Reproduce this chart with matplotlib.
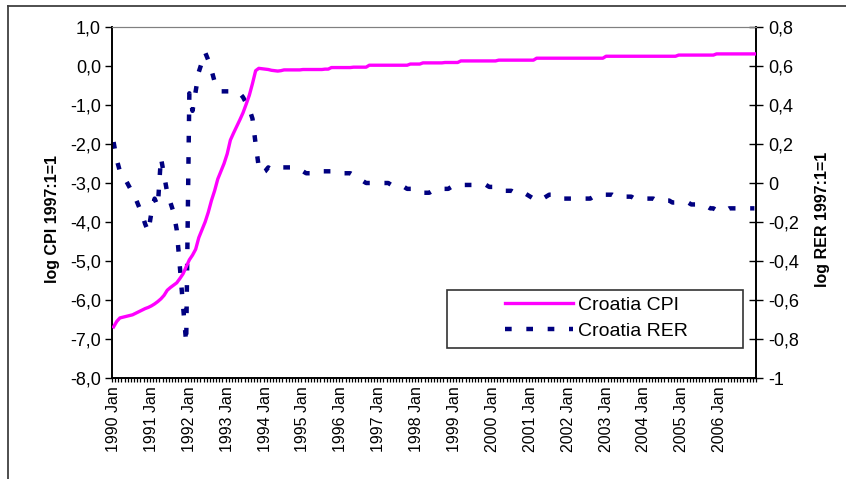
import matplotlib
matplotlib.use("Agg")
import matplotlib.pyplot as plt
from matplotlib.lines import Line2D
from matplotlib.patches import Rectangle

plt.rcParams['font.family'] = ['Liberation Sans', 'DejaVu Sans']

# monthly data, 1990 Jan .. 2006 Dec
cpi = [
    -6.69, -6.55, -6.46, -6.44, -6.42, -6.40, -6.38, -6.34, -6.30, -6.26, -6.22, -6.19,  # 1990
    -6.15, -6.10, -6.04, -5.97, -5.88, -5.75, -5.68, -5.62, -5.56, -5.45, -5.33, -5.15,  # 1991
    -4.97, -4.85, -4.70, -4.40, -4.20, -4.00, -3.75, -3.45, -3.20, -2.90, -2.70, -2.50,  # 1992
    -2.25, -1.90, -1.72, -1.55, -1.38, -1.20, -0.98, -0.75, -0.45, -0.12, -0.06, -0.07,  # 1993
    -0.08, -0.09, -0.11, -0.12, -0.13, -0.12, -0.10, -0.10, -0.10, -0.10, -0.10, -0.10,  # 1994
    -0.09, -0.09, -0.09, -0.09, -0.09, -0.09, -0.09, -0.08, -0.08, -0.04, -0.04, -0.04,  # 1995
    -0.04, -0.04, -0.04, -0.04, -0.03, -0.03, -0.03, -0.03, -0.03, 0.02, 0.02, 0.02,     # 1996
    0.02, 0.02, 0.02, 0.02, 0.02, 0.02, 0.02, 0.02, 0.02, 0.02, 0.05, 0.05,              # 1997
    0.05, 0.05, 0.08, 0.08, 0.08, 0.08, 0.08, 0.08, 0.08, 0.09, 0.09, 0.09,              # 1998
    0.09, 0.09, 0.13, 0.13, 0.13, 0.13, 0.13, 0.13, 0.13, 0.13, 0.13, 0.13,              # 1999
    0.13, 0.13, 0.15, 0.15, 0.15, 0.15, 0.15, 0.15, 0.15, 0.15, 0.15, 0.15,              # 2000
    0.15, 0.15, 0.20, 0.20, 0.20, 0.20, 0.20, 0.20, 0.20, 0.20, 0.20, 0.20,              # 2001
    0.20, 0.20, 0.20, 0.20, 0.20, 0.20, 0.20, 0.20, 0.20, 0.20, 0.20, 0.20,              # 2002
    0.25, 0.25, 0.25, 0.25, 0.25, 0.25, 0.25, 0.25, 0.25, 0.25, 0.25, 0.25,              # 2003
    0.25, 0.25, 0.25, 0.25, 0.25, 0.25, 0.25, 0.25, 0.25, 0.25, 0.25, 0.28,              # 2004
    0.28, 0.28, 0.28, 0.28, 0.28, 0.28, 0.28, 0.28, 0.28, 0.28, 0.28, 0.31,              # 2005
    0.31, 0.31, 0.31, 0.31, 0.31, 0.31, 0.31, 0.31, 0.31, 0.31, 0.31, 0.31,              # 2006
]
rer = [
    0.21, 0.12, 0.06, 0.03, 0.01, -0.02, -0.05, -0.08, -0.12, -0.16, -0.21, -0.25,       # 1990
    -0.15, -0.08, -0.12, 0.13, 0.04, -0.05, -0.10, -0.15, -0.24, -0.43, -0.63, -0.82,    # 1991
    0.46, 0.37, 0.47, 0.57, 0.62, 0.67, 0.63, 0.58, 0.52, 0.48, 0.47, 0.47,              # 1992
    0.47, 0.47, 0.47, 0.47, 0.46, 0.44, 0.41, 0.38, 0.33, 0.20, 0.08, 0.05,              # 1993
    0.06, 0.08, 0.07, 0.08, 0.08, 0.08, 0.08, 0.08, 0.08, 0.07, 0.07, 0.06,              # 1994
    0.06, 0.05, 0.05, 0.05, 0.05, 0.06, 0.06, 0.06, 0.06, 0.06, 0.06, 0.06,              # 1995
    0.05, 0.05, 0.05, 0.05, 0.04, 0.03, 0.02, 0.01, 0.00, 0.00, 0.00, 0.00,              # 1996
    0.00, 0.00, 0.00, 0.00, -0.01, -0.01, -0.02, -0.02, -0.02, -0.03, -0.03, -0.03,      # 1997
    -0.03, -0.04, -0.05, -0.05, -0.05, -0.04, -0.04, -0.03, -0.03, -0.03, -0.03, -0.02,  # 1998
    -0.02, -0.02, -0.01, -0.01, -0.01, -0.01, -0.01, -0.01, -0.01, -0.01, -0.01, -0.02,  # 1999
    -0.02, -0.03, -0.03, -0.04, -0.04, -0.04, -0.04, -0.05, -0.05, -0.05, -0.05, -0.06,  # 2000
    -0.07, -0.08, -0.09, -0.09, -0.08, -0.07, -0.06, -0.06, -0.07, -0.07, -0.08, -0.08,  # 2001
    -0.08, -0.08, -0.08, -0.08, -0.08, -0.08, -0.08, -0.08, -0.07, -0.07, -0.06, -0.06,  # 2002
    -0.06, -0.06, -0.06, -0.07, -0.07, -0.07, -0.07, -0.07, -0.07, -0.08, -0.08, -0.08,  # 2003
    -0.08, -0.08, -0.08, -0.08, -0.09, -0.09, -0.09, -0.09, -0.09, -0.10, -0.10, -0.10,  # 2004
    -0.10, -0.10, -0.10, -0.11, -0.11, -0.11, -0.11, -0.12, -0.12, -0.13, -0.13, -0.14,  # 2005
    -0.14, -0.14, -0.14, -0.13, -0.13, -0.13, -0.13, -0.13, -0.13, -0.13, -0.13, -0.13,  # 2006
]
years = list(range(1990, 2007))
xlabels = [f"{y} Jan" for y in years]
cpi_ticks = [1, 0, -1, -2, -3, -4, -5, -6, -7, -8]
cpi_ticklabels = ["1,0", "0,0", "-1,0", "-2,0", "-3,0", "-4,0", "-5,0", "-6,0", "-7,0", "-8,0"]
rer_ticks = [0.8, 0.6, 0.4, 0.2, 0, -0.2, -0.4, -0.6, -0.8, -1]
rer_ticklabels = ["0,8", "0,6", "0,4", "0,2", "0", "-0,2", "-0,4", "-0,6", "-0,8", "-1"]

W, H = 846, 479
fig = plt.figure(figsize=(W / 100, H / 100), dpi=100)
ax = fig.add_axes([112 / W, 1 - 378 / H, (756 - 112) / W, (378 - 27) / H])
ax2 = ax.twinx()

n = len(cpi)
x = list(range(n))
ax.plot(x, cpi, color="#FF00FF", lw=2.4, solid_joinstyle="round", zorder=3)
ax2.plot(x, rer, color="#000080", lw=3.2, dashes=(1.5, 3.3), dash_capstyle="butt")
ax.set_zorder(ax2.get_zorder() + 1)
ax.patch.set_visible(False)

ax.set_xlim(-0.5, n - 0.5)
ax.set_ylim(-8, 1)
ax2.set_ylim(-1, 0.8)

ax.set_xticks([12 * i for i in range(len(years))])
ax.set_xticklabels(xlabels, rotation=90, fontsize=11.5)
ax.set_xticks([i - 0.5 for i in range(n + 1)], minor=True)
ax.tick_params(axis="x", which="major", length=0, pad=6)
ax.tick_params(axis="x", which="minor", length=3, width=0.9, direction="out")

ax.set_yticks(cpi_ticks)
ax.set_yticklabels(cpi_ticklabels, fontsize=13)
ax.tick_params(axis="y", length=5, width=1, direction="out", pad=3)
ax2.set_yticks(rer_ticks)
ax2.set_yticklabels(rer_ticklabels, fontsize=13)
ax2.tick_params(axis="y", length=10, width=1, direction="inout", pad=4)

for a in (ax, ax2):
    a.spines["top"].set_color("#808080")
    a.spines["left"].set_linewidth(1.2)
    a.spines["right"].set_linewidth(1.2)
    a.spines["bottom"].set_linewidth(1.2)

fig.text(52 / W, 1 - 219 / H, "log CPI 1997:1=1", rotation=90, fontsize=11.5,
         fontweight="bold", ha="center", va="center")
fig.text(822 / W, 1 - 219 / H, "log RER 1997:1=1", rotation=90, fontsize=11.5,
         fontweight="bold", ha="center", va="center")

# legend box
fig.add_artist(Rectangle((447 / W, 1 - 348 / H), 296 / W, 58 / H, transform=fig.transFigure,
                         facecolor="white", edgecolor="#333333", lw=1.2, zorder=4))
handles = [Line2D([], [], color="#FF00FF", lw=2.4),
           Line2D([], [], color="#000080", lw=3.2, dashes=(1.5, 3.3))]
fig.legend(handles, ["Croatia CPI", "Croatia RER"], loc="center left",
           bbox_to_anchor=(505 / W, 1 - 318 / H), frameon=False, fontsize=14,
           borderpad=0, borderaxespad=0, handlelength=3.5, handletextpad=0.25,
           labelspacing=0.4).set_zorder(5)

# outer chart frame
fig.add_artist(Line2D([8 / W, 8 / W], [0, 1 - 6 / H], transform=fig.transFigure,
                      color="#404040", lw=1.3))
fig.add_artist(Line2D([8 / W, 1], [1 - 6 / H, 1 - 6 / H], transform=fig.transFigure,
                      color="#404040", lw=1.3))

fig.savefig("out.png", dpi=100)
